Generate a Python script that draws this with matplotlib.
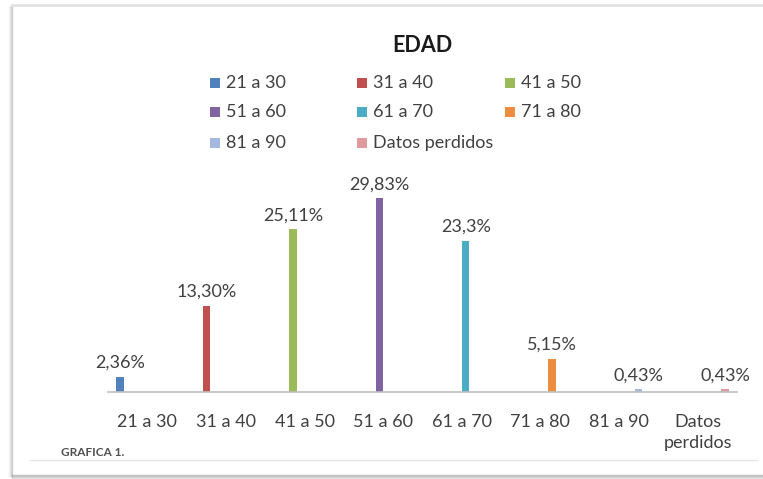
import matplotlib.pyplot as plt
from matplotlib.patches import Rectangle
from matplotlib.lines import Line2D
import numpy as np

plt.rcParams['font.family'] = ['Lato', 'DejaVu Sans']

# age groups and share of respondents (%)
categories = ['21 a 30', '31 a 40', '41 a 50', '51 a 60', '61 a 70', '71 a 80', '81 a 90', 'Datos perdidos']
tick_labels = ['21 a 30', '31 a 40', '41 a 50', '51 a 60', '61 a 70', '71 a 80', '81 a 90', 'Datos\nperdidos']
values = [2.36, 13.30, 25.11, 29.83, 23.3, 5.15, 0.43, 0.43]
value_labels = ['2,36%', '13,30%', '25,11%', '29,83%', '23,3%', '5,15%', '0,43%', '0,43%']
colors = ['#4F81BD', '#C0504D', '#9BBB59', '#8064A2', '#4BACC6', '#EE8D41', '#A5B9E0', '#DE9A9C']

text_color = '#404040'
fs = 13

fig = plt.figure(figsize=(7.63, 4.79), dpi=100)

# panel frame with a soft shadow on left and bottom
W, H = 763, 479
def fx(px):
    return px / W
def fy(py):
    return 1 - py / H

for off, a in [(0, 0.35), (1, 0.25), (2, 0.15), (3, 0.08)]:
    fig.add_artist(Line2D([fx(12 - off), fx(12 - off)], [fy(6), fy(476)], color='#808080', alpha=a, lw=1))
    fig.add_artist(Line2D([fx(12), fx(763)], [fy(475 + off), fy(475 + off)], color='#808080', alpha=a + 0.1, lw=1))
fig.add_artist(Line2D([fx(12), fx(763)], [fy(5), fy(5)], color='#E3E3E3', lw=2))
fig.add_artist(Line2D([fx(30), fx(757)], [fy(460), fy(460)], color='#E6E6E6', lw=1))

ax = fig.add_axes([fx(108), fy(392), fx(737) - fx(108), fy(392 - 227.5) - fy(392)])

n = len(categories)
x = np.arange(n)
slot = 0.1
for i in range(n):
    series = [v if j == i else 0 for j, v in enumerate(values)]
    ax.bar(x + (i - (n - 1) / 2) * slot, series, width=0.095, color=colors[i], label=categories[i])
    ax.annotate(value_labels[i], (x[i] + (i - (n - 1) / 2) * slot, values[i]),
                xytext=(0, 4), textcoords='offset points', ha='center', va='bottom',
                fontsize=fs, color=text_color)

ax.set_xlim(-0.5, n - 0.5)
ax.set_ylim(0, 35)
ax.set_xticks(x)
ax.set_xticklabels(tick_labels, fontsize=fs, color=text_color)
for lbl in ax.get_xticklabels():
    lbl.set_linespacing(1.4)
ax.tick_params(axis='x', length=0, pad=16)
ax.set_yticks([])
for s in ['top', 'right', 'left']:
    ax.spines[s].set_visible(False)
ax.spines['bottom'].set_color('#BFBFBF')
ax.spines['bottom'].set_linewidth(1.2)

fig.text(fx(422), fy(45), 'EDAD', ha='center', va='center', fontsize=15.5, fontweight='bold', color='#1a1a1a')

# legend laid out in three columns, filled row by row
col_x = [210, 357, 505]
row_y = [83, 112, 143]
for i, name in enumerate(categories):
    r, c = divmod(i, 3)
    fig.add_artist(Rectangle((fx(col_x[c]), fy(row_y[r] + 5)), fx(10), 10 / H,
                             facecolor=colors[i], edgecolor='none'))
    fig.text(fx(col_x[c] + 16), fy(row_y[r]), name, ha='left', va='center',
             fontsize=fs, color=text_color)

fig.text(fx(61), fy(452), 'GRAFICA 1.', ha='left', va='center', fontsize=8.5,
         fontweight='bold', color='#505050')

fig.savefig('out.png', dpi=100)
